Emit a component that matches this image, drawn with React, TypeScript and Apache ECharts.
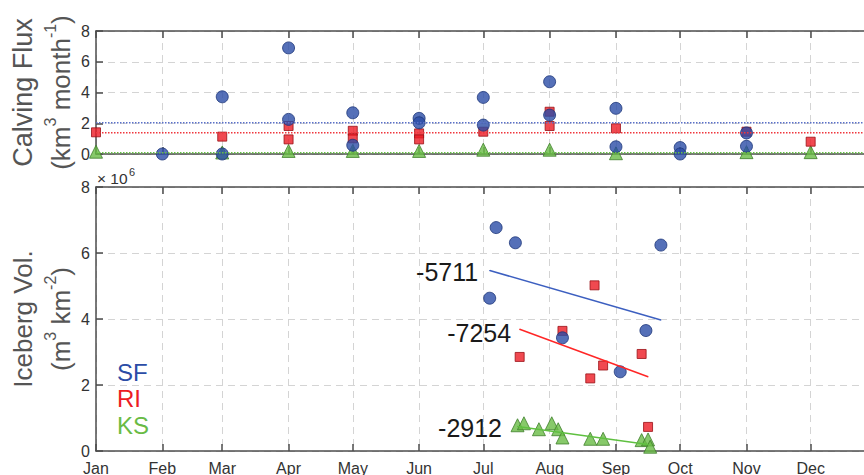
import React, { useEffect, useRef } from 'react';
import * as echarts from 'echarts';

// ---- axes / ticks ----
const monthLabels = ['Jan', 'Feb', 'Mar', 'Apr', 'May', 'Jun', 'Jul', 'Aug', 'Sep', 'Oct', 'Nov', 'Dec'];
const monthStartDays = [0, 31, 59, 90, 120, 151, 181, 212, 243, 273, 304, 334];
const yearDays = 365;
const fluxTicks = { min: 0, max: 8, interval: 2 };
const volTicks = { min: 0, max: 8, interval: 2 }; // x 10^6
const volScaleBase = '× 10';
const volScaleExp = '6';

// ---- top panel: monthly calving flux (km^3 month^-1) ----
const fluxSFMonths = ['Feb', 'Mar', 'Mar', 'Apr', 'Apr', 'May', 'May', 'Jun', 'Jun', 'Jul', 'Jul', 'Aug', 'Aug', 'Sep', 'Sep', 'Oct', 'Oct', 'Nov', 'Nov'];
const fluxSFValues = [0, 3.72, 0, 6.9, 2.25, 2.68, 0.57, 2.32, 2.03, 3.68, 1.88, 4.7, 2.53, 2.97, 0.47, 0.42, 0, 1.37, 0.5];
const fluxRIMonths = ['Jan', 'Mar', 'Apr', 'Apr', 'May', 'May', 'Jun', 'Jun', 'Jul', 'Aug', 'Aug', 'Sep', 'Nov', 'Dec'];
const fluxRIValues = [1.41, 1.13, 1.82, 0.95, 1.51, 1.02, 1.34, 0.95, 1.45, 2.75, 1.82, 1.67, 1.45, 0.8];
const fluxKSMonths = ['Jan', 'Mar', 'Apr', 'May', 'Jun', 'Jul', 'Aug', 'Sep', 'Nov', 'Dec'];
const fluxKSValues = [0.15, 0.1, 0.2, 0.2, 0.2, 0.28, 0.28, 0.05, 0.12, 0.12];
const meanFlux = [2.03, 1.38, 0.08]; // SF, RI, KS

// ---- bottom panel: iceberg volume (x10^6 m^3 km^-2) vs day of year ----
const volSFDays = [184, 187, 196, 218, 245, 257, 264];
const volSFValues = [4.63, 6.77, 6.31, 3.43, 2.4, 3.65, 6.24];
const volRIDays = [198, 218, 231, 233, 237, 255, 258];
const volRIValues = [2.85, 3.64, 2.2, 5.02, 2.59, 2.94, 0.73];
const volKSDays = [197, 200, 207, 213, 216, 218, 231, 237, 255, 258, 259];
const volKSValues = [0.78, 0.84, 0.66, 0.84, 0.66, 0.41, 0.37, 0.37, 0.33, 0.35, 0.13];

const trendSFDays = [184, 264];
const trendSFValues = [5.47, 3.97];
const trendRIDays = [198, 258];
const trendRIValues = [3.69, 2.25];
const trendKSDays = [197, 258];
const trendKSValues = [0.74, 0.2];
const trendRates = ['-5711', '-7254', '-2912'];

const siteNames = ['SF', 'RI', 'KS'];

const FONT = '"Liberation Sans", Arial, Helvetica, sans-serif';
const AXIS = '#4d4d4d';
const GRIDC = '#d4d4d4';
const C_SF = '#2b4ca6';
const C_RI = '#ec1c24';
const C_KS = '#69bb45';

export default function App() {
  const ref = useRef<HTMLDivElement>(null);

  useEffect(() => {
    document.body.style.margin = '0';
    const chart = echarts.init(ref.current!, null, { renderer: 'svg' });

    const monthDay = (m: string) => monthStartDays[monthLabels.indexOf(m)];
    const pairs = (xs: number[], ys: number[]) => xs.map((x, i) => [x, ys[i]]);

    const xAxisDef = (gridIndex: number, position: 'top' | 'bottom', showLabel: boolean, split: boolean) => ({
      type: 'value',
      gridIndex,
      position,
      min: 0,
      max: yearDays,
      axisLine: { show: true, onZero: false, lineStyle: { color: AXIS, width: 1.5 } },
      axisTick: { show: true, inside: true, length: 7, customValues: monthStartDays, lineStyle: { color: AXIS, width: 1.5 } },
      axisLabel: {
        show: showLabel,
        customValues: monthStartDays,
        formatter: (v: number) => monthLabels[monthStartDays.indexOf(v)] ?? '',
        fontSize: 16,
        color: '#333',
        margin: 9,
        fontFamily: FONT,
      },
      splitLine: { show: split, lineStyle: { type: [7, 5], color: GRIDC, width: 1 } },
    });

    const nameStyle = {
      fontSize: 26,
      lineHeight: 38,
      color: '#555',
      fontFamily: FONT,
      rich: {
        big: { fontSize: 27, lineHeight: 38, color: '#555', fontFamily: FONT },
        sup: { fontSize: 16, lineHeight: 10, verticalAlign: 'top', color: '#555', fontFamily: FONT },
      },
    };

    const yAxisDef = (gridIndex: number, t: { min: number; max: number; interval: number }, name: string) => ({
      type: 'value',
      gridIndex,
      min: t.min,
      max: t.max,
      interval: t.interval,
      axisLine: { show: true, lineStyle: { color: AXIS, width: 1.5 } },
      axisTick: { show: true, inside: true, length: 7, lineStyle: { color: AXIS, width: 1.5 } },
      axisLabel: { fontSize: 16, color: '#333', margin: 6, fontFamily: FONT },
      splitLine: { show: true, lineStyle: { type: [7, 5], color: GRIDC, width: 1 } },
      name,
      nameLocation: 'middle',
      nameRotate: 90,
      nameGap: 16,
      nameMoveOverlap: false,
      nameTextStyle: nameStyle,
    });

    const scatter = (name: string, xi: number, yi: number, data: number[][], symbol: string, size: number, color: string, border: string) => ({
      name,
      type: 'scatter',
      xAxisIndex: xi,
      yAxisIndex: yi,
      data,
      symbol,
      symbolSize: size,
      clip: false,
      itemStyle: { color, borderColor: border, borderWidth: 1 },
    });

    const meanLine = (v: number, color: string) => ({
      type: 'line',
      xAxisIndex: 0,
      yAxisIndex: 0,
      data: [[0, v], [yearDays, v]],
      symbol: 'none',
      lineStyle: { color, width: 1.5, type: [1.5, 1.5] },
      silent: true,
    });

    const trend = (days: number[], vals: number[], color: string, rate: string, dist: number, off: number) => ({
      type: 'line',
      xAxisIndex: 2,
      yAxisIndex: 1,
      showSymbol: true,
      symbol: 'circle',
      symbolSize: 1,
      itemStyle: { color },
      lineStyle: { color, width: 1.5 },
      data: days.map((d, i) =>
        i === 0
          ? {
              value: [d, vals[i]],
              label: {
                show: true,
                formatter: rate,
                position: 'left',
                distance: dist,
                offset: [0, off],
                fontSize: 25,
                color: '#1a1a1a',
                fontFamily: FONT,
              },
            }
          : [d, vals[i]]
      ),
      silent: true,
    });

    const option = {
      animation: false,
      backgroundColor: '#fff',
      grid: [
        { left: 96, top: 31, height: 123, width: 781, containLabel: false, outerBoundsMode: 'none' },
        { left: 96, top: 187, height: 264, width: 781, containLabel: false, outerBoundsMode: 'none' },
      ],
      xAxis: [
        xAxisDef(0, 'bottom', false, true),
        xAxisDef(0, 'top', false, false),
        xAxisDef(1, 'bottom', true, true),
        xAxisDef(1, 'top', false, false),
      ],
      yAxis: [
        yAxisDef(0, fluxTicks, '{big|Calving Flux}\n(km{sup|3} month{sup|-1})'),
        yAxisDef(1, volTicks, 'Iceberg Vol.\n(m{sup|3} km{sup|-2})'),
      ],
      graphic: [
        { type: 'text', left: 97, top: 170.5, style: { text: volScaleBase, fontSize: 15.5, fill: '#333', fontFamily: FONT } },
        { type: 'text', left: 129, top: 166.5, style: { text: volScaleExp, fontSize: 11, fill: '#333', fontFamily: FONT } },
        { type: 'text', left: 117, top: 360, style: { text: siteNames[0], fontSize: 24, fill: C_SF, fontFamily: FONT } },
        { type: 'text', left: 117, top: 386, style: { text: siteNames[1], fontSize: 24, fill: C_RI, fontFamily: FONT } },
        { type: 'text', left: 117, top: 413, style: { text: siteNames[2], fontSize: 24, fill: C_KS, fontFamily: FONT } },
      ],
      series: [
        meanLine(meanFlux[0], '#5a70c8'),
        meanLine(meanFlux[1], '#f0363c'),
        meanLine(meanFlux[2], '#66bf44'),
        scatter('KS', 0, 0, fluxKSMonths.map((m, i) => [monthDay(m), fluxKSValues[i]]), 'triangle', 13, C_KS, '#3f7f2a'),
        scatter('RI', 0, 0, fluxRIMonths.map((m, i) => [monthDay(m), fluxRIValues[i]]), 'rect', 9, C_RI, '#9a1015'),
        scatter('SF', 0, 0, fluxSFMonths.map((m, i) => [monthDay(m), fluxSFValues[i]]), 'circle', 12, C_SF, '#1c3578'),
        trend(trendSFDays, trendSFValues, '#3c5fc0', trendRates[0], 11, 2),
        trend(trendRIDays, trendRIValues, '#ff2626', trendRates[1], 8, 4),
        trend(trendKSDays, trendKSValues, '#5fc040', trendRates[2], 15, 1),
        scatter('RI vol', 2, 1, pairs(volRIDays, volRIValues), 'rect', 9, C_RI, '#9a1015'),
        scatter('SF vol', 2, 1, pairs(volSFDays, volSFValues), 'circle', 12, C_SF, '#1c3578'),
        scatter('KS vol', 2, 1, pairs(volKSDays, volKSValues), 'triangle', 13, C_KS, '#3f7f2a'),
      ],
    };

    chart.setOption(option as any);
    return () => chart.dispose();
  }, []);

  return <div ref={ref} style={{ width: 864, height: 475, position: 'absolute', left: 0, top: 0 }} />;
}
